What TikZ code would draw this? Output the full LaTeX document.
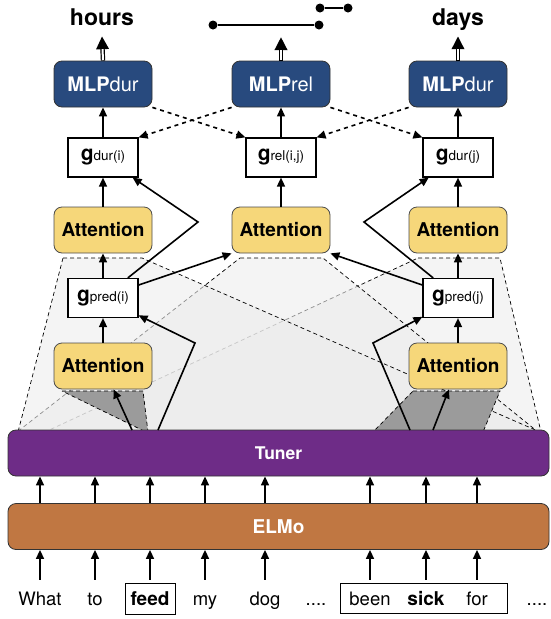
\documentclass[tikz,border=0pt]{standalone}
\usepackage{fontspec}
\setmainfont{TeX Gyre Heros}
\usetikzlibrary{arrows.meta, positioning}
\definecolor{mlpblue}{RGB}{40, 74, 126}
\definecolor{attyellow}{RGB}{246, 215, 122}
\definecolor{tunerpurple}{RGB}{110, 44, 135}
\definecolor{elmobrown}{RGB}{192, 119, 66}
\definecolor{focusgray}{RGB}{155, 155, 155}
\tikzstyle{mlp} = [rectangle, rounded corners=8pt, minimum width=98pt, minimum height=46pt, draw=black!80, line width=0.8pt, fill=mlpblue, text=white, font=\fontsize{20}{20}\selectfont]
\tikzstyle{attention} = [rectangle, rounded corners=8pt, minimum width=98pt, minimum height=46pt, draw=black!70, line width=0.8pt, fill=attyellow, font=\fontsize{19}{19}\selectfont\bfseries]
\tikzstyle{gbox} = [rectangle, minimum width=70pt, minimum height=39pt, draw, line width=1.2pt, fill=white, inner sep=0pt]
\tikzstyle{layer} = [rectangle, rounded corners=8pt, minimum width=541pt, minimum height=46pt, draw=black!80, line width=0.8pt, text=white]
\tikzstyle{word} = [inner xsep=0pt, inner ysep=8.5pt, text height=14pt, text depth=0pt, font=\fontsize{18.5}{18.5}\selectfont]
\tikzstyle{outlabel} = [anchor=base, inner xsep=0pt, inner ysep=11pt, text depth=0pt, font=\fontsize{23}{23}\selectfont\bfseries]
\tikzstyle{tdot} = [circle, fill, inner sep=0pt, minimum size=9pt]
\tikzstyle{arrow} = [line width=1.6pt, -{Triangle[length=9pt,width=8pt]}]
\tikzstyle{dasharrow} = [arrow, dash pattern=on 4pt off 4pt]
\tikzstyle{outarrow} = [line width=4.4pt, -{Triangle[length=13pt,width=12pt]}]
\tikzstyle{outstem} = [white, line width=2pt, shorten >=13pt, shorten <=0.6pt]
\tikzstyle{attnspan} = [fill=gray!15, fill opacity=0.6, draw=black, dash pattern=on 4pt off 3pt, line width=0.7pt]
\tikzstyle{attnfocus} = [fill=focusgray, draw=black, dash pattern=on 4pt off 3pt, line width=0.7pt]
\newcommand{\gsub}[1]{{\fontsize{21}{21}\selectfont\bfseries g}{\fontsize{13.5}{13.5}\selectfont #1}}

\begin{document}
\begin{tikzpicture}[x=1pt, y=-1pt]
\useasboundingbox (0,0) rectangle (550,619);

% Attention spans over the sentence
\filldraw[attnspan] (418,258) -- (500,258) -- (541,432) -- (45,432) -- cycle;
\filldraw[attnspan] (240,258) -- (323,258) -- (538,432) -- (17,432) -- cycle;
\filldraw[attnspan] (63,258) -- (142,258) -- (540,432) -- (18,432) -- cycle;
\filldraw[attnfocus] (62,391) -- (143,391) -- (148,432) -- (146,432) -- cycle;
\filldraw[attnfocus] (413,391) -- (500,391) -- (483,432) -- (373,432) -- cycle;

% Outputs
\node[outlabel] (hours) at (102,25) {hours};
\node[outlabel] (days) at (458,25) {days};
\node[tdot] (t1) at (213,25) {};
\node[tdot] (t2) at (319,25) {};
\node[tdot] (t3) at (320,8) {};
\node[tdot] (t4) at (348,8) {};
\coordinate (relout) at (281,37);

% MLPs
\node[mlp] (mlpl) at (103,84) {\textbf{MLP}dur};
\node[mlp] (mlpc) at (281,84) {\textbf{MLP}rel};
\node[mlp] (mlpr) at (458,84) {\textbf{MLP}dur};

% g vectors
\node[gbox] (gdi) at (103,157.5) {\gsub{dur(i)}};
\node[gbox] (grel) at (281,157.5) {\gsub{rel(i,j)}};
\node[gbox] (gdj) at (458,157.5) {\gsub{dur(j)}};
\node[gbox] (gpi) at (103,298) {\gsub{pred(i)}};
\node[gbox] (gpj) at (458,298) {\gsub{pred(j)}};

% Attention layers
\node[attention] (attl) at (103,230) {Attention};
\node[attention] (attc) at (281,230) {Attention};
\node[attention] (attr) at (458,230) {Attention};
\node[attention] (attbl) at (103,366) {Attention};
\node[attention] (attbr) at (458,366) {Attention};

% Encoder
\node[layer, fill=tunerpurple, font=\fontsize{17.5}{17.5}\selectfont\bfseries] (tuner) at (278.5,453) {Tuner};
\node[layer, fill=elmobrown, font=\fontsize{19}{19}\selectfont\bfseries] (elmo) at (278.5,526.5) {ELMo};

% Sentence
\node[word] (w1) at (40,598.5) {What};
\node[word] (w2) at (95,598.5) {to};
\node[word, draw, line width=1pt, minimum width=50pt, font=\fontsize{19}{19}\selectfont\bfseries] (w3) at (150,598.5) {feed};
\node[word] (w4) at (205,598.5) {my};
\node[word] (w5) at (265,598.5) {dog};
\node[word] (w6) at (316,598.5) {....};
\node[word] (w7) at (370,598.5) {been};
\node[word, font=\fontsize{19}{19}\selectfont\bfseries] (w8) at (426,598.5) {sick};
\node[word] (w9) at (477,598.5) {for};
\node[word] (w10) at (537,598.5) {....};
\node[draw, line width=1pt, minimum width=167pt, minimum height=30pt] (phrase) at (423.5,598.5) {};

% Tokens into ELMo and Tuner
\draw[arrow, shorten <=3pt] (w1.north) -- (w1 |- elmo.south);
\draw[arrow, shorten <=3pt] (w2.north) -- (w2 |- elmo.south);
\draw[arrow, shorten <=3pt] (w3.north) -- (w3 |- elmo.south);
\draw[arrow, shorten <=3pt] (w4.north) -- (w4 |- elmo.south);
\draw[arrow, shorten <=3pt] (w5.north) -- (w5 |- elmo.south);
\draw[arrow, shorten <=3pt] (w7.north) -- (w7 |- elmo.south);
\draw[arrow, shorten <=3pt] (w8.north) -- (w8 |- elmo.south);
\draw[arrow, shorten <=3pt] (w9.north) -- (w9 |- elmo.south);
\draw[arrow] (w1 |- elmo.north) -- (w1 |- tuner.south);
\draw[arrow] (w2 |- elmo.north) -- (w2 |- tuner.south);
\draw[arrow] (w3 |- elmo.north) -- (w3 |- tuner.south);
\draw[arrow] (w4 |- elmo.north) -- (w4 |- tuner.south);
\draw[arrow] (w5 |- elmo.north) -- (w5 |- tuner.south);
\draw[arrow] (w7 |- elmo.north) -- (w7 |- tuner.south);
\draw[arrow] (w8 |- elmo.north) -- (w8 |- tuner.south);
\draw[arrow] (w9 |- elmo.north) -- (w9 |- tuner.south);

% Tuner to predicate attention
\coordinate (tl1) at (132,430);
\coordinate (tl2) at (158,430);
\coordinate (tr1) at (433,430);
\coordinate (tr2) at (410,430);
\coordinate (kinkl) at (195,343);
\coordinate (kinkr) at (373,343);
\draw[arrow] (tl1) -- (attbl);
\draw[arrow] (tr1) -- (attbr);
\draw[arrow] (tl2) -- (kinkl) -- (gpi);
\draw[arrow] (tr2) -- (kinkr) -- (gpj);

% Predicate to top attention
\draw[arrow] (attbl) -- (gpi);
\draw[arrow] (attbr) -- (gpj);
\draw[arrow] (gpi) -- (attl);
\draw[arrow] (gpj) -- (attr);
\draw[arrow] (gpi.20) -- (attc.south west);
\draw[arrow] (gpj.160) -- (attc.south east);
\coordinate (kinkul) at (198,222);
\coordinate (kinkur) at (364,222);
\draw[arrow] (gpi.39) -- (kinkul) -- (gdi);
\draw[arrow] (gpj.141) -- (kinkur) -- (gdj);

% Attention to g and MLPs
\draw[arrow] (attl) -- (gdi);
\draw[arrow] (attc) -- (grel);
\draw[arrow] (attr) -- (gdj);
\draw[arrow] (gdi) -- (mlpl);
\draw[arrow, line width=1.2pt] (grel) -- (mlpc);
\draw[arrow] (gdj) -- (mlpr);
\draw[dasharrow] (mlpl.south east) -- (grel.north west);
\draw[dasharrow] (mlpc.south west) -- (gdi.north east);
\draw[dasharrow] (mlpc.south east) -- (gdj.north west);
\draw[dasharrow] (mlpr.south west) -- (grel.north east);

% Outputs
\draw[outarrow] (mlpl.north) -- (hours.south);
\draw[outstem] (mlpl.north) -- (hours.south);
\draw[outarrow] (mlpc.north) -- (relout);
\draw[outstem] (mlpc.north) -- (relout);
\draw[outarrow] (mlpr.north) -- (days.south);
\draw[outstem] (mlpr.north) -- (days.south);
\draw[line width=1.6pt] (t1) -- (t2);
\draw[line width=1.6pt] (t3) -- (t4);
\end{tikzpicture}
\end{document}
